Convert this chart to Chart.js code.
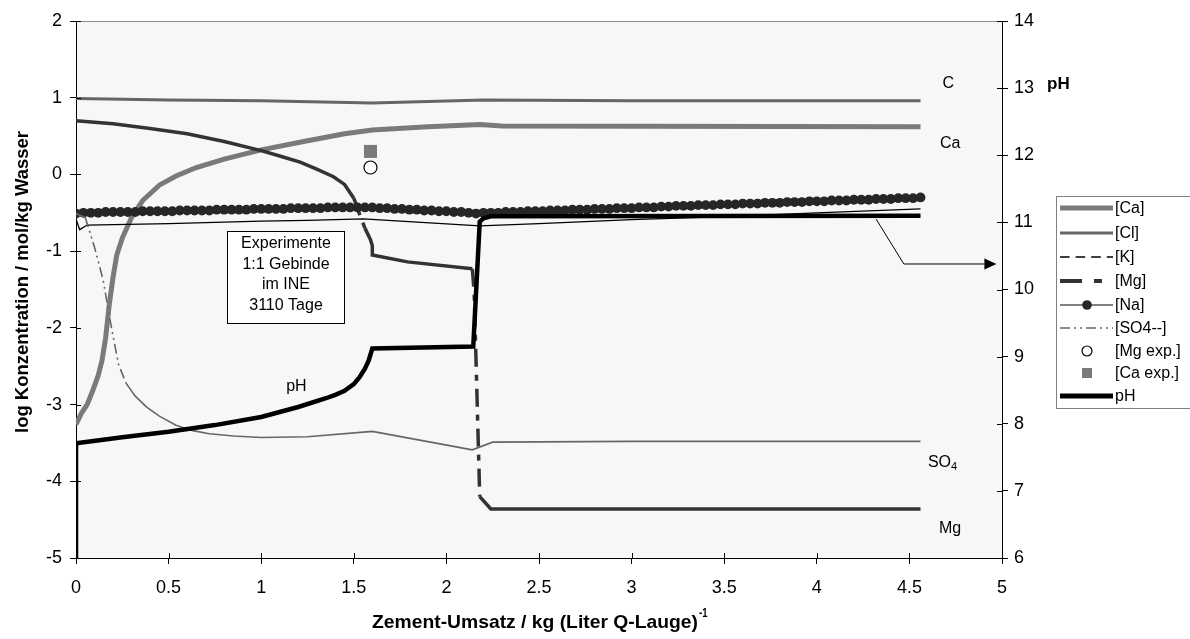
<!DOCTYPE html>
<html>
<head>
<meta charset="utf-8">
<script src="https://cdn.jsdelivr.net/npm/chart.js@4.4.1/dist/chart.umd.min.js"></script>
<style>
  html, body { margin: 0; padding: 0; background: #ffffff; }
  #wrap { width: 1190px; height: 639px; }
</style>
</head>
<body>
<div id="wrap"><canvas id="c" width="1190" height="639"></canvas></div>
<script>
// ---- data: x = Zement-Umsatz / kg (Liter Q-Lauge)^-1, y = log concentration ----
const caX = [0, 0.03, 0.06, 0.09, 0.12, 0.14, 0.16, 0.18, 0.20, 0.22, 0.25, 0.30, 0.36, 0.45, 0.54, 0.65, 0.80, 1.00, 1.25, 1.45, 1.60, 1.90, 2.18, 2.30, 4.56];
const caY = [-3.26, -3.11, -3.00, -2.82, -2.62, -2.43, -2.13, -1.69, -1.34, -1.05, -0.83, -0.56, -0.34, -0.14, -0.02, 0.09, 0.20, 0.32, 0.44, 0.53, 0.58, 0.62, 0.65, 0.63, 0.62];

const clX = [0, 0.50, 1.00, 1.60, 2.20, 3.00, 4.56];
const clY = [0.99, 0.97, 0.96, 0.93, 0.97, 0.96, 0.96];

const kX = [0, 0.02, 0.06, 0.50, 1.00, 1.25, 1.55, 2.18, 2.50, 3.00, 3.50, 4.00, 4.56];
const kY = [-0.58, -0.72, -0.66, -0.64, -0.61, -0.60, -0.58, -0.67, -0.64, -0.59, -0.55, -0.50, -0.45];

const mgX = [0, 0.20, 0.40, 0.60, 0.80, 1.00, 1.10, 1.21, 1.30, 1.39, 1.45, 1.50, 1.53, 1.56, 1.59, 1.60, 1.60, 1.79, 2.14, 2.15, 2.18, 2.24, 4.56];
const mgY = [0.70, 0.66, 0.60, 0.53, 0.43, 0.31, 0.24, 0.16, 0.07, -0.03, -0.13, -0.31, -0.51, -0.70, -0.85, -0.93, -1.05, -1.14, -1.23, -1.54, -4.20, -4.36, -4.36];

const naX = [0.00, 0.04, 0.08, 0.12, 0.16, 0.20, 0.24, 0.28, 0.32, 0.36, 0.40, 0.44, 0.48, 0.52, 0.56, 0.60, 0.64, 0.68, 0.72, 0.76,
             0.80, 0.84, 0.88, 0.92, 0.96, 1.00, 1.04, 1.08, 1.12, 1.16, 1.20, 1.24, 1.28, 1.32, 1.36, 1.40, 1.44, 1.48, 1.52, 1.56,
             1.60, 1.64, 1.68, 1.72, 1.76, 1.80, 1.84, 1.88, 1.92, 1.96, 2.00, 2.04, 2.08, 2.12, 2.16, 2.20, 2.24, 2.28, 2.32, 2.36,
             2.40, 2.44, 2.48, 2.52, 2.56, 2.60, 2.64, 2.68, 2.72, 2.76, 2.80, 2.84, 2.88, 2.92, 2.96, 3.00, 3.04, 3.08, 3.12, 3.16,
             3.20, 3.24, 3.28, 3.32, 3.36, 3.40, 3.44, 3.48, 3.52, 3.56, 3.60, 3.64, 3.68, 3.72, 3.76, 3.80, 3.84, 3.88, 3.92, 3.96,
             4.00, 4.04, 4.08, 4.12, 4.16, 4.20, 4.24, 4.28, 4.32, 4.36, 4.40, 4.44, 4.48, 4.52, 4.56];
const naY = [-0.51, -0.50, -0.50, -0.50, -0.49, -0.49, -0.49, -0.49, -0.49, -0.48, -0.48, -0.48, -0.48, -0.48, -0.47, -0.47, -0.47, -0.47, -0.47, -0.46,
             -0.46, -0.46, -0.46, -0.46, -0.45, -0.45, -0.45, -0.45, -0.45, -0.44, -0.44, -0.44, -0.44, -0.44, -0.43, -0.43, -0.43, -0.43, -0.43, -0.43,
             -0.43, -0.44, -0.44, -0.45, -0.45, -0.46, -0.46, -0.47, -0.47, -0.48, -0.48, -0.49, -0.49, -0.50, -0.51, -0.50, -0.50, -0.50, -0.49, -0.49,
             -0.49, -0.48, -0.48, -0.48, -0.47, -0.47, -0.47, -0.46, -0.46, -0.46, -0.45, -0.45, -0.45, -0.44, -0.44, -0.44, -0.43, -0.43, -0.43, -0.42,
             -0.42, -0.41, -0.41, -0.41, -0.40, -0.40, -0.40, -0.39, -0.39, -0.39, -0.38, -0.38, -0.38, -0.37, -0.37, -0.37, -0.36, -0.36, -0.36, -0.35,
             -0.35, -0.35, -0.34, -0.34, -0.34, -0.33, -0.33, -0.33, -0.32, -0.32, -0.32, -0.31, -0.31, -0.31, -0.30];

const so4X = [0, 0.05, 0.10, 0.146, 0.19, 0.23, 0.27, 0.32, 0.38, 0.45, 0.54, 0.63, 0.72, 0.85, 1.00, 1.25, 1.60, 2.14, 2.25, 3.00, 4.56];
const so4Y = [-0.51, -0.56, -0.95, -1.37, -1.98, -2.48, -2.72, -2.89, -3.03, -3.15, -3.27, -3.34, -3.38, -3.41, -3.43, -3.42, -3.35, -3.59, -3.49, -3.48, -3.48];

const mgExpX = [1.59];
const mgExpY = [0.09];
const caExpX = [1.59];
const caExpY = [0.30];

// pH on the secondary axis
const phX = [0, 0, 0.25, 0.50, 0.75, 1.00, 1.20, 1.35, 1.40, 1.45, 1.50, 1.53, 1.56, 1.58, 1.60, 2.145, 2.18, 2.20, 2.24, 4.56];
const phY = [6.0, 7.71, 7.80, 7.88, 7.98, 8.10, 8.25, 8.38, 8.43, 8.49, 8.59, 8.69, 8.82, 8.94, 9.12, 9.15, 11.01, 11.06, 11.09, 11.10];

// tick ranges
const xTicks = { min: 0, max: 5, step: 0.5 };
const yTicks = { min: -5, max: 2, step: 1 };
const phTicks = { min: 6, max: 14, step: 1 };

const legendLabels = ['[Ca]', '[Cl]', '[K]', '[Mg]', '[Na]', '[SO4--]', '[Mg exp.]', '[Ca exp.]', 'pH'];

// ---- helpers ----
const FONT = "'Liberation Sans', Arial, sans-serif";
const pts = (xs, ys) => xs.map((x, i) => ({ x, y: ys[i] }));

// steep segments get the dash pattern, short flat ones stay solid
function steepDash(pattern) {
  return ctx => {
    const dx = Math.abs(ctx.p1.x - ctx.p0.x);
    const dy = Math.abs(ctx.p1.y - ctx.p0.y);
    return (dy > 2 * dx && dy > 12) ? pattern : undefined;
  };
}

const DASH_MG = [18, 8, 6, 8];
const DASH_SO4 = [10, 4, 2, 4, 2, 4];
const DASH_K = [8, 5];

const datasets = [
  { label: '[Ca]', data: pts(caX, caY), borderColor: '#7a7a7a', borderWidth: 5, pointRadius: 0, order: 8, yAxisID: 'y' },
  { label: '[Cl]', data: pts(clX, clY), borderColor: '#666666', borderWidth: 3, pointRadius: 0, order: 7, yAxisID: 'y' },
  { label: '[K]', data: pts(kX, kY), borderColor: '#000000', borderWidth: 1.3, pointRadius: 0, order: 6, yAxisID: 'y',
    segment: { borderDash: steepDash(DASH_K) } },
  { label: '[Mg]', data: pts(mgX, mgY), borderColor: '#333333', borderWidth: 3.5, pointRadius: 0, order: 5, yAxisID: 'y',
    segment: { borderDash: steepDash(DASH_MG) } },
  { label: '[Na]', data: pts(naX, naY), borderColor: '#000000', borderWidth: 1, pointRadius: 4.9, pointBorderWidth: 0,
    pointBackgroundColor: '#262626', order: 4, yAxisID: 'y' },
  { label: '[SO4--]', data: pts(so4X, so4Y), borderColor: '#666666', borderWidth: 1.6, pointRadius: 0, order: 3, yAxisID: 'y',
    segment: { borderDash: steepDash(DASH_SO4) } },
  { label: '[Mg exp.]', data: pts(mgExpX, mgExpY), showLine: false, pointStyle: 'circle', pointRadius: 6.5,
    pointBackgroundColor: '#ffffff', pointBorderColor: '#000000', pointBorderWidth: 1.2, order: 2, yAxisID: 'y' },
  { label: '[Ca exp.]', data: pts(caExpX, caExpY), showLine: false, pointStyle: 'rect', pointRadius: 9.2,
    pointBackgroundColor: '#7a7a7a', pointBorderColor: '#7a7a7a', pointBorderWidth: 0, order: 1, yAxisID: 'y' },
  { label: 'pH', data: pts(phX, phY), borderColor: '#000000', borderWidth: 4.5, pointRadius: 0, order: 0, yAxisID: 'y1' }
];

// plot background, inner tick halves, top border
const frame = {
  id: 'frame',
  beforeDraw(chart) {
    const { ctx, chartArea: a } = chart;
    ctx.save();
    ctx.fillStyle = '#f7f7f7';
    ctx.fillRect(a.left, a.top, a.right - a.left, a.bottom - a.top);
    ctx.restore();
  },
  afterDraw(chart) {
    const { ctx, chartArea: a, scales } = chart;
    ctx.save();
    ctx.strokeStyle = '#8c8c8c';
    ctx.lineWidth = 1;
    ctx.beginPath();
    ctx.moveTo(a.left, a.top + 0.5);
    ctx.lineTo(a.right, a.top + 0.5);
    ctx.stroke();
    ctx.strokeStyle = '#000';
    ctx.beginPath();
    scales.x.ticks.forEach(t => {
      const px = Math.round(scales.x.getPixelForValue(t.value)) + 0.5;
      ctx.moveTo(px, a.bottom); ctx.lineTo(px, a.bottom - 5);
    });
    scales.y.ticks.forEach(t => {
      const py = Math.round(scales.y.getPixelForValue(t.value)) + 0.5;
      ctx.moveTo(a.left, py); ctx.lineTo(a.left + 5, py);
    });
    scales.y1.ticks.forEach(t => {
      const py = Math.round(scales.y1.getPixelForValue(t.value)) + 0.5;
      ctx.moveTo(a.right, py); ctx.lineTo(a.right - 5, py);
    });
    ctx.stroke();
    ctx.restore();
  }
};

function condensed(ctx, text, x, y, width, font) {
  ctx.font = font;
  const w = ctx.measureText(text).width;
  ctx.save();
  ctx.translate(x, y);
  ctx.scale(width / w, 1);
  ctx.fillText(text, 0, 0);
  ctx.restore();
}

// axis titles, curve labels, text box, arrow, legend
const annotations = {
  id: 'annotations',
  afterDraw(chart) {
    const { ctx, scales } = chart;
    const X = v => scales.x.getPixelForValue(v);
    const Y = v => scales.y.getPixelForValue(v);
    const P = v => scales.y1.getPixelForValue(v);
    ctx.save();
    ctx.fillStyle = '#000';

    // y title
    ctx.save();
    ctx.translate(23, 282);
    ctx.rotate(-Math.PI / 2);
    ctx.textAlign = 'center';
    ctx.textBaseline = 'middle';
    condensed(ctx, 'log Konzentration / mol/kg Wasser', 0, 0, 302, 'bold 19px ' + FONT);
    ctx.restore();

    // x title with superscript
    ctx.textAlign = 'left';
    ctx.textBaseline = 'middle';
    condensed(ctx, 'Zement-Umsatz / kg (Liter Q-Lauge)', 372, 623, 326, 'bold 19px ' + FONT);
    ctx.font = 'bold 12px ' + FONT;
    ctx.save();
    ctx.translate(699, 614);
    ctx.scale(0.8, 1);
    ctx.fillText('-1', 0, 0);
    ctx.restore();

    // secondary axis name
    ctx.font = 'bold 17px ' + FONT;
    ctx.textAlign = 'left';
    ctx.fillText('pH', 1047, 84);

    // curve labels
    ctx.font = '16px ' + FONT;
    ctx.textAlign = 'center';
    ctx.fillText('C', X(4.71), Y(1.18));
    ctx.fillText('Ca', X(4.72), Y(0.40));
    ctx.fillText('Mg', X(4.72), Y(-4.62));
    ctx.fillText('pH', X(1.19), Y(-2.76));
    ctx.textAlign = 'left';
    const sx = X(4.6), sy = Y(-3.75);
    ctx.fillText('SO', sx, sy);
    const wSO = ctx.measureText('SO').width;
    ctx.font = '11px ' + FONT;
    ctx.fillText('4', sx + wSO, sy + 5);

    // text box
    const bl = Math.round(X(0.815)) + 0.5, br = Math.round(X(1.447)) + 0.5;
    const bt = Math.round(Y(-0.738)) + 0.5, bb = Math.round(Y(-1.937)) + 0.5;
    ctx.fillStyle = '#ffffff';
    ctx.fillRect(bl, bt, br - bl, bb - bt);
    ctx.strokeStyle = '#000';
    ctx.lineWidth = 1;
    ctx.strokeRect(bl, bt, br - bl, bb - bt);
    ctx.fillStyle = '#000';
    ctx.font = '16px ' + FONT;
    ctx.textAlign = 'center';
    const cx = (bl + br) / 2;
    ['Experimente', '1:1 Gebinde', 'im INE', '3110 Tage'].forEach((t, i) => {
      ctx.fillText(t, cx, bt + 12.5 + i * 20.5);
    });

    // arrow from the pH curve to the pH axis
    ctx.beginPath();
    ctx.moveTo(X(4.32), P(11.05));
    ctx.lineTo(X(4.47), P(10.38));
    ctx.lineTo(X(4.905), P(10.38));
    ctx.stroke();
    ctx.beginPath();
    const ty = P(10.38);
    ctx.moveTo(X(4.97), ty);
    ctx.lineTo(X(4.905), ty - 5.5);
    ctx.lineTo(X(4.905), ty + 5.5);
    ctx.closePath();
    ctx.fill();

    // legend
    const lx = 1056.5, lt = 196.5, lb = 408.5;
    ctx.fillStyle = '#ffffff';
    ctx.fillRect(lx, lt, 1200 - lx, lb - lt);
    ctx.strokeStyle = '#7f7f7f';
    ctx.strokeRect(lx, lt, 1200 - lx, lb - lt);
    const rows = [208, 233, 257, 281, 305, 328, 351, 373, 396];
    const x0 = 1060, x1 = 1113, xm = 1087;
    const line = (y, color, w, dash) => {
      ctx.save();
      ctx.strokeStyle = color; ctx.lineWidth = w; ctx.setLineDash(dash || []);
      ctx.beginPath(); ctx.moveTo(x0, y); ctx.lineTo(x1, y); ctx.stroke();
      ctx.restore();
    };
    line(rows[0], '#7a7a7a', 5);
    line(rows[1], '#666666', 3);
    line(rows[2], '#000000', 1.5, DASH_K.map(v => v * 1.2));
    line(rows[3], '#333333', 4, [22, 12, 8, 12]);
    line(rows[4], '#000000', 1);
    ctx.fillStyle = '#262626';
    ctx.beginPath(); ctx.arc(xm, rows[4], 4.8, 0, Math.PI * 2); ctx.fill();
    line(rows[5], '#666666', 1.5, DASH_SO4);
    ctx.fillStyle = '#ffffff'; ctx.strokeStyle = '#000'; ctx.lineWidth = 1.2;
    ctx.beginPath(); ctx.arc(xm, rows[6], 5, 0, Math.PI * 2); ctx.fill(); ctx.stroke();
    ctx.fillStyle = '#7a7a7a';
    ctx.fillRect(xm - 5, rows[7] - 5, 10, 10);
    line(rows[8], '#000000', 5);
    ctx.fillStyle = '#000';
    ctx.font = '16px ' + FONT;
    ctx.textAlign = 'left';
    ctx.textBaseline = 'middle';
    legendLabels.forEach((t, i) => ctx.fillText(t, 1115, rows[i] + 1));
    ctx.restore();
  }
};

const tickFont = { family: FONT, size: 18 };
const fmt = v => String(Math.round(v * 10) / 10);

new Chart(document.getElementById('c'), {
  type: 'line',
  data: { datasets },
  options: {
    responsive: false,
    animation: false,
    parsing: true,
    elements: { line: { tension: 0, fill: false }, point: { hoverRadius: 0 } },
    layout: { padding: { top: 21, left: 0, right: 0, bottom: 0 } },
    plugins: { legend: { display: false }, tooltip: { enabled: false } },
    scales: {
      x: {
        type: 'linear', min: xTicks.min, max: xTicks.max,
        ticks: { stepSize: xTicks.step, color: '#000', font: tickFont, padding: 13, maxRotation: 0, autoSkip: false, callback: fmt },
        grid: { drawOnChartArea: false, drawTicks: true, tickLength: 6, color: '#000' },
        border: { color: '#000', width: 1 },
        afterFit: s => { s.height = 81; }
      },
      y: {
        type: 'linear', position: 'left', min: yTicks.min, max: yTicks.max,
        ticks: { stepSize: yTicks.step, color: '#000', font: tickFont, padding: 8, callback: fmt },
        grid: { drawOnChartArea: false, drawTicks: true, tickLength: 6, color: '#000' },
        border: { color: '#000', width: 1 },
        afterFit: s => { s.width = 76; }
      },
      y1: {
        type: 'linear', position: 'right', min: phTicks.min, max: phTicks.max,
        ticks: { stepSize: phTicks.step, color: '#000', font: tickFont, padding: 6, callback: fmt },
        grid: { drawOnChartArea: false, drawTicks: true, tickLength: 6, color: '#000' },
        border: { color: '#000', width: 1 },
        afterFit: s => { s.width = 188; }
      }
    }
  },
  plugins: [frame, annotations]
});
</script>
</body>
</html>
